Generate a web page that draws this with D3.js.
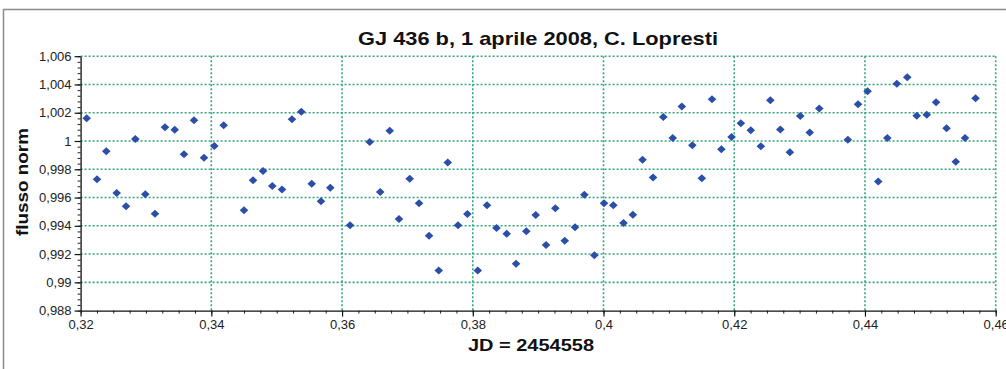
<!DOCTYPE html>
<html>
<head>
<meta charset="utf-8">
<script src="https://cdn.jsdelivr.net/npm/d3@7"></script>
<style>
  body { margin: 0; background: #fff; }
  svg { display: block; font-family: "Liberation Sans", Arial, sans-serif; }
</style>
</head>
<body>
<svg id="chart"></svg>
<script>
// JD - 2454558 (fraction of day)
const jd = [
  0.32093, 0.32251, 0.32393, 0.32552, 0.32695, 0.32837, 0.32990, 0.33138, 0.33291, 0.33440,
  0.33582, 0.33735, 0.33888, 0.34046, 0.34189, 0.34500, 0.34638, 0.34791, 0.34933, 0.35081,
  0.35234, 0.35377, 0.35536, 0.35678, 0.35820, 0.36122, 0.36423, 0.36584, 0.36729, 0.36871,
  0.37035, 0.37178, 0.37331, 0.37479, 0.37617, 0.37774, 0.37917, 0.38076, 0.38218, 0.38363,
  0.38519, 0.38662, 0.38819, 0.38963, 0.39121, 0.39263, 0.39407, 0.39564, 0.39707, 0.39860,
  0.40008, 0.40150, 0.40306, 0.40449, 0.40597, 0.40758, 0.40915, 0.41059, 0.41198, 0.41359,
  0.41504, 0.41660, 0.41803, 0.41959, 0.42101, 0.42253, 0.42407, 0.42552, 0.42705, 0.42851,
  0.43010, 0.43155, 0.43301, 0.43738, 0.43894, 0.44040, 0.44203, 0.44342, 0.44488, 0.44647,
  0.44792, 0.44945, 0.45088, 0.45248, 0.45389, 0.45531, 0.45692
];
// normalised flux
const flux = [
  1.00161, 0.99729, 0.99927, 0.99632, 0.99538, 1.00014, 0.99623, 0.99486, 1.00097, 1.00080,
  0.99906, 1.00147, 0.99882, 0.99965, 1.00111, 0.99510, 0.99722, 0.99788, 0.99682, 0.99656,
  1.00154, 1.00207, 0.99698, 0.99573, 0.99670, 0.99404, 0.99993, 0.99639, 1.00073, 0.99448,
  0.99733, 0.99559, 0.99330, 0.99083, 0.99847, 0.99404, 0.99484, 0.99083, 0.99545, 0.99385,
  0.99344, 0.99132, 0.99361, 0.99477, 0.99264, 0.99524, 0.99295, 0.99390, 0.99620, 0.99191,
  0.99560, 0.99545, 0.99419, 0.99478, 0.99868, 0.99742, 1.00170, 1.00021, 1.00244, 0.99970,
  0.99736, 1.00295, 0.99941, 1.00028, 1.00126, 1.00076, 0.99963, 1.00288, 1.00081, 0.99920,
  1.00177, 1.00060, 1.00230, 1.00009, 1.00260, 1.00352, 0.99714, 1.00021, 1.00405, 1.00451,
  1.00179, 1.00186, 1.00274, 1.00090, 0.99854, 1.00021, 1.00302
];

const xTicks = [0.32, 0.34, 0.36, 0.38, 0.40, 0.42, 0.44, 0.46];
const xTickLabels = ["0,32", "0,34", "0,36", "0,38", "0,4", "0,42", "0,44", "0,46"];
const yTicks = [1.006, 1.004, 1.002, 1.000, 0.998, 0.996, 0.994, 0.992, 0.990, 0.988];
const yTickLabels = ["1,006", "1,004", "1,002", "1", "0,998", "0,996", "0,994", "0,992", "0,99", "0,988"];

const title = "GJ 436 b, 1 aprile 2008, C. Lopresti";
const xTitle = "JD = 2454558";
const yTitle = "flusso norm";

const width = 1006, height = 369;
const plot = { left: 80.6, right: 995.7, top: 56.2, bottom: 310.6 };

const svg = d3.select("#chart").attr("width", width).attr("height", height);

// outer frame of the picture
svg.append("rect")
  .attr("x", 3.5).attr("y", 9.5)
  .attr("width", width + 10).attr("height", height + 10)
  .attr("fill", "#fff").attr("stroke", "#8a8a8a").attr("stroke-width", 1.5);

const x = d3.scaleLinear().domain([0.32, 0.46]).range([plot.left, plot.right]);
const y = d3.scaleLinear().domain([0.988, 1.006]).range([plot.bottom, plot.top]);

const gridColor = "#34a67c";

// horizontal grid
svg.append("g")
  .selectAll("line")
  .data(yTicks.filter(d => d > 0.9885))
  .enter().append("line")
  .attr("x1", plot.left).attr("x2", plot.right)
  .attr("y1", d => y(d)).attr("y2", d => y(d))
  .attr("stroke", gridColor).attr("stroke-width", 1.6)
  .attr("stroke-dasharray", "2,2");

// vertical grid
svg.append("g")
  .selectAll("line")
  .data(xTicks.filter(d => d > 0.3205))
  .enter().append("line")
  .attr("x1", d => x(d)).attr("x2", d => x(d))
  .attr("y1", plot.top).attr("y2", plot.bottom)
  .attr("stroke", gridColor).attr("stroke-width", 1.6)
  .attr("stroke-dasharray", "2,2");

// minor ticks
const xMinor = d3.range(0, 57).map(i => 0.32 + i * 0.0025);
const yMinor = d3.range(0, 46).map(i => 0.988 + i * 0.0004);

svg.append("g")
  .attr("transform", `translate(0,${plot.bottom})`)
  .call(d3.axisBottom(x).tickValues(xMinor).tickFormat("").tickSize(3).tickSizeOuter(0))
  .call(g => g.select(".domain").remove())
  .selectAll("line").attr("stroke", "#222");

svg.append("g")
  .attr("transform", `translate(${plot.left},0)`)
  .call(d3.axisLeft(y).tickValues(yMinor).tickFormat("").tickSize(3).tickSizeOuter(0))
  .call(g => g.select(".domain").remove())
  .selectAll("line").attr("stroke", "#222");

// major axes
const xAxis = svg.append("g")
  .attr("transform", `translate(0,${plot.bottom})`)
  .call(d3.axisBottom(x).tickValues(xTicks)
    .tickFormat((d, i) => xTickLabels[i]).tickSize(6).tickSizeOuter(0).tickPadding(3));
xAxis.select(".domain").attr("stroke", "#111").attr("stroke-width", 1.3);
xAxis.selectAll("line").attr("stroke", "#111").attr("stroke-width", 1.2);
xAxis.selectAll("text").attr("font-size", 13).attr("fill", "#222")
  .attr("font-family", "'Liberation Sans', Arial, sans-serif");

const yAxis = svg.append("g")
  .attr("transform", `translate(${plot.left},0)`)
  .call(d3.axisLeft(y).tickValues(yTicks)
    .tickFormat((d, i) => yTickLabels[i]).tickSize(6).tickSizeOuter(0).tickPadding(3));
yAxis.select(".domain").attr("stroke", "#111").attr("stroke-width", 1.3);
yAxis.selectAll("line").attr("stroke", "#111").attr("stroke-width", 1.2);
yAxis.selectAll("text").attr("font-size", 13).attr("fill", "#222")
  .attr("font-family", "'Liberation Sans', Arial, sans-serif");

// data points: squat diamonds like the spreadsheet markers
const diamond = "M0,-4L4.3,0L0,4L-4.3,0Z";
const pts = jd.map((d, i) => ({ jd: d, f: flux[i] }));
svg.append("g")
  .selectAll("path")
  .data(pts)
  .enter().append("path")
  .attr("d", diamond)
  .attr("transform", d => `translate(${x(d.jd)},${y(d.f)})`)
  .attr("fill", "#2b4ea8");

// titles
svg.append("text")
  .attr("x", 538).attr("y", 45)
  .attr("text-anchor", "middle")
  .attr("font-size", 19).attr("font-weight", "bold").attr("fill", "#111")
  .attr("textLength", 360).attr("lengthAdjust", "spacingAndGlyphs")
  .text(title);

svg.append("text")
  .attr("x", 531).attr("y", 351)
  .attr("text-anchor", "middle")
  .attr("font-size", 17).attr("font-weight", "bold").attr("fill", "#111")
  .attr("textLength", 126).attr("lengthAdjust", "spacingAndGlyphs")
  .text(xTitle);

svg.append("text")
  .attr("transform", "translate(28,182) rotate(-90)")
  .attr("text-anchor", "middle")
  .attr("font-size", 17).attr("font-weight", "bold").attr("fill", "#111")
  .attr("textLength", 108).attr("lengthAdjust", "spacingAndGlyphs")
  .text(yTitle);
</script>
</body>
</html>
